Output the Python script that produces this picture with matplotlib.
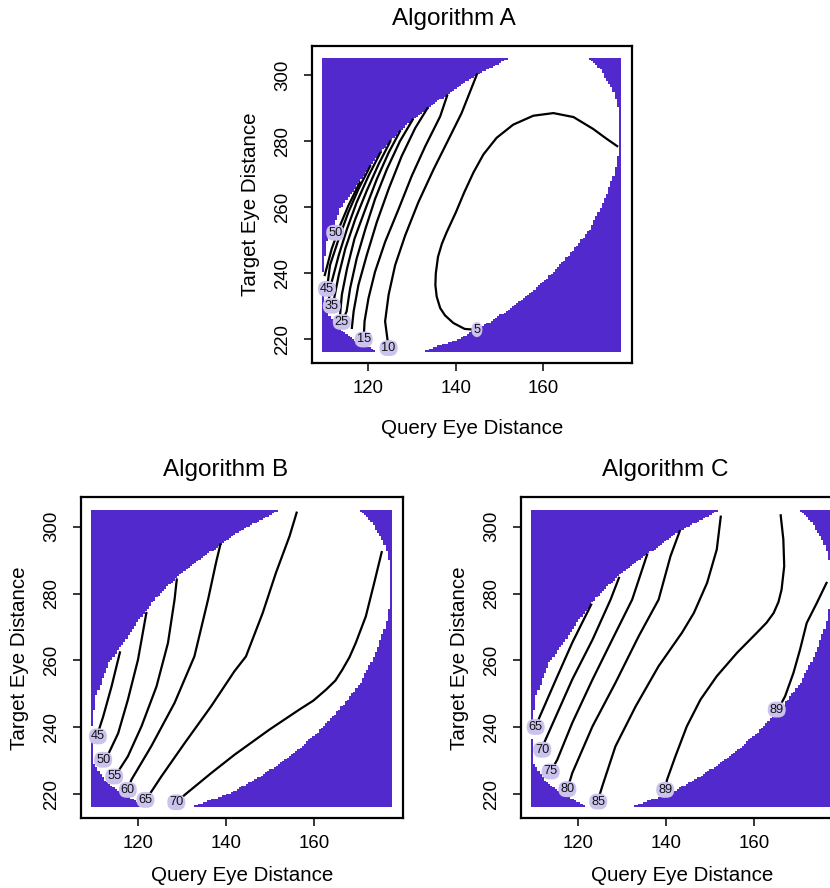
import numpy as np
import matplotlib.pyplot as plt
from matplotlib.path import Path

plt.rcParams['font.family'] = ['Liberation Sans', 'DejaVu Sans']

# region where the surface is defined (white), shared by the three panels
bx = [109.5, 110.5, 113.5, 117.9, 120.4, 122.7, 125.0, 127.2, 130.1, 133.5, 137.5,
      141.0, 144.6, 148.5, 152.5, 170.0, 173.0, 176.0, 177.3, 177.2, 176.2, 173.9,
      170.5, 166.0, 161.0, 155.0, 148.5, 141.0, 131.5, 122.5, 116.2, 112.4, 109.8]
by = [239.5, 249.5, 259.5, 267.5, 272.5, 276.5, 280.0, 283.0, 286.5, 290.0, 293.5,
      297.0, 300.0, 302.5, 305.5, 305.5, 301.5, 294.5, 287.5, 278.5, 271.0, 262.5,
      253.5, 246.0, 239.0, 232.0, 226.0, 220.5, 216.0, 216.0, 220.5, 224.5, 229.5]
grid_x = (109.35, 177.55)
grid_y = (216.3, 305.1)

# contour lines: (level, x, y)
a_lines = [
    (5, [144.8, 142.0, 139.4, 137.5, 136.4, 135.6, 135.3, 135.4, 135.9, 136.8, 137.9,
         140.0, 141.9, 144.0, 146.3, 149.3, 153.1, 157.7, 162.3, 166.9, 171.4, 174.5, 176.9],
        [222.9, 223.2, 225.0, 227.3, 229.5, 233.0, 236.5, 240.0, 245.0, 249.0, 252.5,
         258.5, 264.5, 270.5, 276.0, 281.0, 285.0, 287.7, 288.5, 287.3, 283.7, 280.7, 278.5]),
    (10, [124.6, 123.8, 124.6, 126.1, 128.4, 131.4, 134.9, 138.3, 141.3, 144.8],
         [217.4, 225.5, 233.5, 242.5, 251.5, 261.5, 271.5, 280.5, 288.5, 300.2]),
    (15, [118.9, 119.1, 120.0, 121.5, 123.8, 126.9, 129.9, 133.0, 136.4, 138.0],
         [220.0, 225.5, 232.5, 240.5, 249.5, 259.5, 269.5, 278.5, 287.5, 293.8]),
    (20, [116.2, 116.6, 117.7, 119.6, 121.9, 124.6, 127.6, 130.7, 133.5],
         [223.5, 228.5, 236.5, 245.5, 255.5, 265.5, 275.5, 284.0, 290.0]),
    (25, [113.9, 115.0, 115.8, 117.3, 119.3, 121.5, 124.2, 127.2, 130.1],
         [225.3, 228.5, 235.5, 244.5, 253.5, 262.5, 271.5, 280.0, 286.5]),
    (30, [113.5, 113.9, 115.1, 116.8, 119.3, 121.9, 124.6, 127.2],
         [227.5, 233.5, 241.5, 250.5, 259.5, 268.5, 276.5, 283.0]),
    (35, [111.6, 112.0, 113.2, 114.7, 117.0, 119.6, 122.3, 125.0],
         [230.2, 231.5, 239.5, 247.5, 256.5, 265.0, 273.0, 280.0]),
    (40, [110.9, 111.6, 113.2, 115.1, 117.3, 120.0, 122.7],
         [232.0, 237.5, 245.5, 253.5, 261.5, 269.5, 276.5]),
    (45, [110.5, 111.2, 113.2, 115.4, 117.7, 120.4],
         [235.3, 242.5, 250.5, 258.5, 265.5, 272.5]),
    (50, [110.0, 111.6, 113.5, 115.4, 118.0],
         [239.5, 247.5, 254.5, 260.5, 267.5]),
]
a_labels = [(50, 112.4, 252.3), (45, 110.5, 235.3), (35, 111.6, 230.2), (25, 113.9, 225.3),
            (15, 118.9, 220.0), (10, 124.6, 217.4), (5, 144.8, 223.0)]

b_lines = [
    (45, [110.8, 111.0, 112.1, 114.0, 115.9], [237.3, 238.7, 243.2, 252.2, 262.4]),
    (50, [112.1, 113.2, 115.5, 117.7, 120.0, 121.9], [230.3, 231.8, 238.2, 248.2, 260.2, 274.2]),
    (55, [114.6, 115.5, 117.7, 120.8, 124.2, 126.8, 128.3, 128.8],
         [225.3, 226.8, 231.3, 240.3, 252.2, 265.2, 278.2, 284.2]),
    (60, [117.7, 118.5, 123.0, 128.3, 132.8, 135.9, 137.7, 138.7],
         [221.3, 224.3, 234.3, 247.3, 261.2, 278.2, 289.2, 294.7]),
    (65, [121.7, 122.3, 125.3, 130.6, 136.6, 141.9, 144.5, 148.3, 151.3, 154.4, 156.0],
         [218.3, 219.3, 225.3, 235.3, 246.3, 256.8, 261.2, 274.2, 286.2, 297.2, 304.2]),
    (70, [128.7, 130.6, 136.6, 141.9, 149.8, 156.6, 159.8, 162.7, 164.8, 166.4, 168.0,
          169.4, 171.7, 173.6, 175.3],
         [217.6, 219.8, 226.3, 231.8, 239.3, 245.3, 248.0, 251.3, 254.0, 257.3, 261.0,
          265.2, 273.2, 283.2, 292.4]),
]
b_labels = [(45, 110.9, 237.3), (50, 112.1, 230.3), (55, 114.6, 225.3), (60, 117.7, 221.3),
            (65, 121.7, 218.3), (70, 128.7, 217.6)]

c_lines = [
    (65, [110.4, 111.2, 115.0, 118.7, 123.0], [240.1, 242.8, 254.3, 265.3, 276.7]),
    (70, [111.9, 112.3, 115.0, 118.7, 123.3, 127.4, 129.3],
         [233.3, 235.3, 243.3, 254.3, 266.2, 278.2, 284.7]),
    (75, [113.8, 115.3, 118.7, 123.3, 127.8, 132.3, 135.7],
         [226.8, 230.3, 241.3, 254.3, 266.3, 278.2, 291.7]),
    (80, [117.6, 118.7, 123.3, 128.5, 133.8, 138.3, 141.0, 143.1],
         [221.5, 226.3, 240.3, 253.3, 267.3, 278.2, 291.2, 298.7]),
    (85, [124.6, 124.8, 125.5, 128.5, 133.1, 138.3, 143.6, 146.3, 149.3, 151.5, 152.4],
         [217.8, 219.3, 222.3, 234.3, 246.3, 258.3, 268.3, 274.2, 283.2, 293.2, 303.0]),
    (89, [139.8, 140.2, 142.1, 144.7, 147.8, 151.5, 156.1, 160.6, 162.8, 164.4, 165.5,
          166.2, 166.8, 166.6, 166.0],
         [221.3, 224.3, 231.3, 240.3, 248.3, 255.3, 262.3, 268.3, 271.3, 274.2, 277.5,
          281.2, 288.2, 296.2, 303.4]),
    (89, [165.1, 166.0, 167.0, 168.9, 170.4, 171.9, 174.2, 176.4],
         [245.3, 246.8, 249.3, 256.3, 263.3, 271.2, 277.2, 283.2]),
]
c_labels = [(65, 110.4, 240.1), (70, 111.9, 233.3), (75, 113.8, 226.8), (80, 117.6, 221.5),
            (85, 124.6, 217.8), (89, 139.8, 221.3), (89, 165.1, 245.3)]

PURPLE = (0x52 / 255, 0x29 / 255, 0xcc / 255)
LAVENDER = '#cbc3ed'

# purple/white raster, blocky like the original image()
nx, ny = 140, 180
cx = grid_x[0] + (np.arange(nx) + 0.5) * (grid_x[1] - grid_x[0]) / nx
cy = grid_y[0] + (np.arange(ny) + 0.5) * (grid_y[1] - grid_y[0]) / ny
gx, gy = np.meshgrid(cx, cy)
inside = Path(np.column_stack([bx, by])).contains_points(
    np.column_stack([gx.ravel(), gy.ravel()])).reshape(gx.shape)
img = np.ones((ny, nx, 3))
img[~inside] = PURPLE

fig = plt.figure(figsize=(8.3, 8.88), dpi=100)


def panel(rect, lines, labels, title, title_x, title_y, xlab_y):
    ax = fig.add_axes(rect)
    ax.imshow(img, extent=[grid_x[0], grid_x[1], grid_y[0], grid_y[1]], origin='lower',
              interpolation='nearest', aspect='auto', zorder=0)
    for lev, xs, ys in lines:
        ax.plot(xs, ys, color='black', lw=1.6, zorder=2)
    for lev, x, y in labels:
        ax.text(x, y, str(lev), fontsize=9.2, ha='center', va='center', zorder=3,
                color='#111111',
                bbox=dict(boxstyle='round,pad=0.15,rounding_size=0.6', fc=LAVENDER, ec='none'))
    ax.set_xlim(107.0, 180.2)
    ax.set_ylim(212.8, 308.8)
    ax.set_xticks([120, 140, 160])
    ax.set_yticks([220, 240, 260, 280, 300])
    ax.tick_params(direction='out', length=5.5, width=1.1, labelsize=13.4)
    ax.tick_params(axis='x', pad=6.5)
    ax.tick_params(axis='y', pad=9, labelrotation=90)
    for t in ax.get_yticklabels():
        t.set_va('center')
    for s in ax.spines.values():
        s.set_linewidth(1.6)
    ax.set_xlabel('Query Eye Distance', fontsize=14.8)
    ax.set_ylabel('Target Eye Distance', fontsize=14.8)
    ax.xaxis.label.set_va('center')
    ax.yaxis.label.set_va('center')
    ax.xaxis.set_label_coords(0.5, xlab_y)
    ax.yaxis.set_label_coords(-0.19, 0.5)
    fig.text(title_x, title_y, title, fontsize=17.5, ha='center', va='center')
    return ax


panel([0.3755, 0.5909, 0.3855, 0.3573], a_lines, a_labels, 'Algorithm A', 0.5464, 0.979, -0.207)
panel([0.0972, 0.0785, 0.3887, 0.3615], b_lines, b_labels, 'Algorithm B', 0.2719, 0.4707, -0.177)
panel([0.6273, 0.0785, 0.3887, 0.3615], c_lines, c_labels, 'Algorithm C', 0.8012, 0.4707, -0.177)

fig.savefig('out.png', dpi=100)
